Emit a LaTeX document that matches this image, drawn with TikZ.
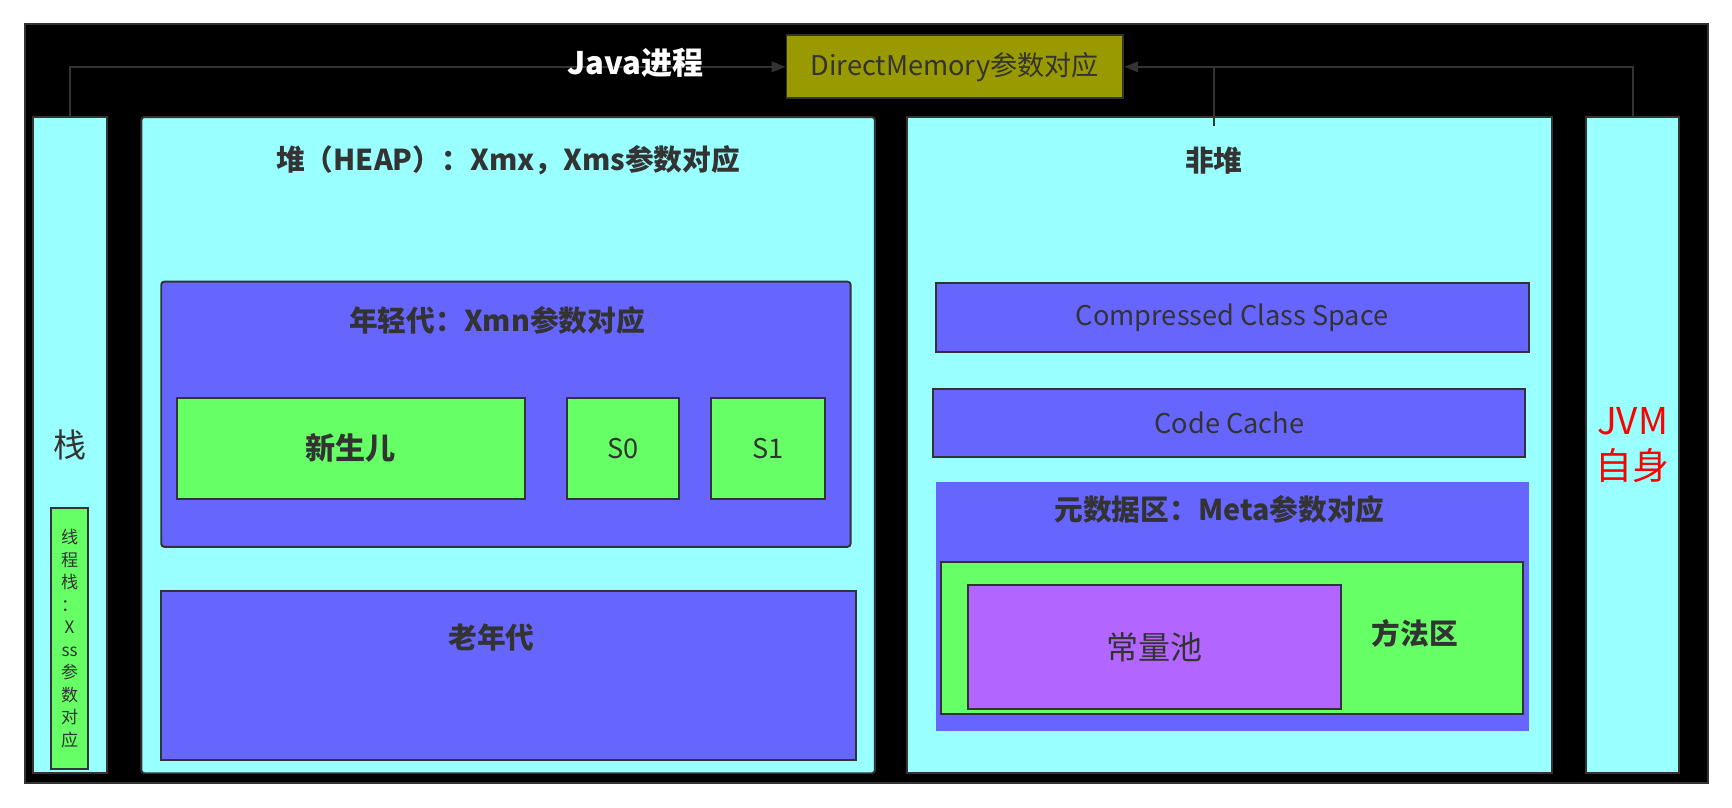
\documentclass[tikz,border=0pt]{standalone}
\usepackage{fontspec}
\setmainfont{Noto Sans CJK SC}
\usetikzlibrary{arrows.meta}

\definecolor{linegray}{HTML}{333333}
\definecolor{areacyan}{HTML}{99FFFF}
\definecolor{areablue}{HTML}{6666FF}
\definecolor{areagreen}{HTML}{66FF66}
\definecolor{areaolive}{HTML}{999900}
\definecolor{areapurple}{HTML}{B266FF}
\newcommand{\pxl}{0.2mm}

\begin{document}
\begin{tikzpicture}[x=0.2mm,y=-0.2mm,
  area/.style={draw=linegray,line width=1pt,inner sep=0pt,text=linegray,
    font=\fontsize{14}{17}\selectfont},
  titletext/.style={text=linegray,inner sep=0pt,font=\fontsize{14.8}{18}\selectfont\bfseries},
  conn/.style={draw=linegray,line width=1pt,-{Triangle[length=2.5mm,width=1.9mm]}}]
\useasboundingbox[fill=white] (0,0) rectangle (1568,731);
\draw[fill=black,draw=linegray,line width=1pt] (23,22) rectangle (1546,709);

% top: direct memory
\node[area,fill=areaolive,minimum width=305*\pxl,minimum height=57*\pxl] (dm) at (864.5,60.5) {DirectMemory参数对应};

% stack
\node[area,fill=areacyan,minimum width=67*\pxl,minimum height=594*\pxl,font=\fontsize{17}{20}\selectfont] (stack) at (63.5,403) {栈};
\node[area,fill=areagreen,minimum width=34*\pxl,minimum height=236*\pxl,align=center,
  font=\fontsize{8.8}{11.6}\selectfont] (tstack) at (63,578) {线\\程\\栈\\：\\X\\ss\\参\\数\\对\\应};

% heap
\node[area,fill=areacyan,rounded corners=1.5pt,minimum width=664*\pxl,minimum height=594*\pxl] (heap) at (460,403) {};
\node[titletext] (heaptitle) at (460,145) {堆（HEAP）：Xmx，Xms参数对应};
\node[area,fill=areablue,rounded corners=1.5pt,minimum width=624*\pxl,minimum height=240*\pxl] (young) at (458,375) {};
\node[titletext] (youngtitle) at (450,290) {年轻代：Xmn参数对应};
\node[area,fill=areagreen,minimum width=315*\pxl,minimum height=92*\pxl,font=\fontsize{15.5}{18}\selectfont\bfseries] (eden) at (317.5,406) {新生儿};
\node[area,fill=areagreen,minimum width=102*\pxl,minimum height=92*\pxl] (szero) at (564,406) {S0};
\node[area,fill=areagreen,minimum width=103*\pxl,minimum height=92*\pxl] (sone) at (695.5,406) {S1};
\node[area,fill=areablue,minimum width=629*\pxl,minimum height=153*\pxl] (old) at (460.5,611.5) {};
\node[titletext] (oldtitle) at (445,577) {老年代};

% non heap
\node[area,fill=areacyan,minimum width=584*\pxl,minimum height=594*\pxl] (nonheap) at (1113,403) {};
\node[titletext] (nonheaptitle) at (1099,145) {非堆};
\node[area,fill=areablue,minimum width=537*\pxl,minimum height=63*\pxl] (ccs) at (1115.5,287.5) {Compressed Class Space};
\node[area,fill=areablue,minimum width=536*\pxl,minimum height=62*\pxl] (codecache) at (1113,383) {Code Cache};
\node[area,draw=none,fill=areablue,minimum width=537*\pxl,minimum height=226*\pxl] (meta) at (1115.5,549) {};
\node[titletext] (metatitle) at (1104,461) {元数据区：Meta参数对应};
\node[area,fill=areagreen,minimum width=527*\pxl,minimum height=137*\pxl] (method) at (1115.5,577.5) {};
\node[titletext] (methodtitle) at (1281,573) {方法区};
\node[area,fill=areapurple,minimum width=338*\pxl,minimum height=112*\pxl,font=\fontsize{16.5}{20}\selectfont] (pool) at (1045,586) {常量池};

% jvm itself
\node[area,fill=areacyan,minimum width=84*\pxl,minimum height=594*\pxl,align=center,text=red,
  font=\fontsize{19}{23}\selectfont] (jvm) at (1478,403) {JVM\\自身};

% connectors
\coordinate (nhtap) at (1099,114);
\draw[conn] (stack.north) |- (dm.west);
\draw[conn] (jvm.north) |- (dm.east);
\draw[draw=linegray,line width=1pt] (nhtap) -- (nhtap |- dm.east);

\node[titletext,text=white,font=\fontsize{16}{19}\selectfont\bfseries] (javaproc) at (575,57) {Java进程};
\end{tikzpicture}
\end{document}
